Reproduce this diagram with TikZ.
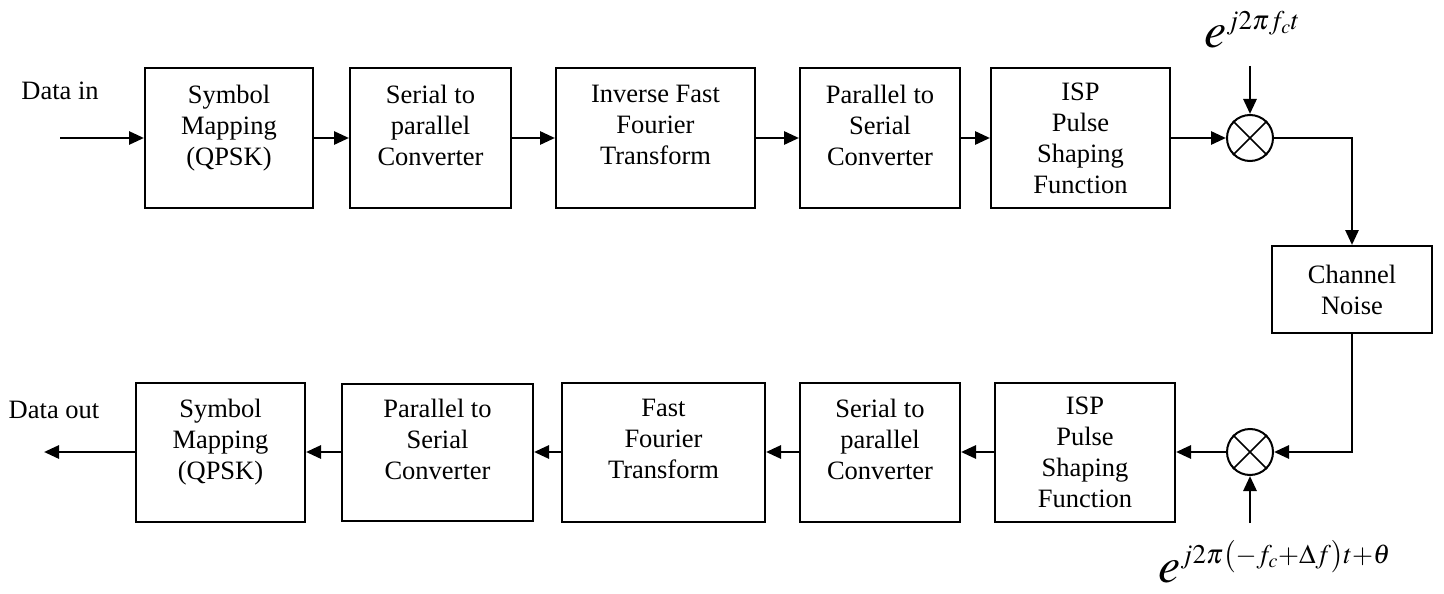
\documentclass[tikz,border=0pt]{standalone}
\usepackage{amsmath}
\usepackage{mathptmx}
\usepackage{fontspec}
\setmainfont{Liberation Serif}
\usepackage{tikz}
\usetikzlibrary{arrows.meta,positioning}

\newcommand{\lowpad}{\rule[-26pt]{0pt}{26pt}}

\begin{document}
\begin{tikzpicture}[x=1pt,y=-1pt,
  blk/.style={draw,line width=2pt,inner sep=0pt,align=center,font=\fontsize{26.5}{31}\selectfont},
  mix/.style={draw,circle,line width=2pt,minimum size=46pt,inner sep=0pt},
  arr/.style={line width=2.8pt,-{Triangle[length=15pt,width=13pt]}},
  lbl/.style={font=\fontsize{26.5}{31}\selectfont}]
%
\useasboundingbox (0,0) rectangle (1444,594);
%
% transmitter
\node[blk,minimum width=168pt,minimum height=139pt] (symA) at (229,138) {Symbol\\Mapping\\(QPSK)\lowpad};
\node[blk,minimum width=161pt,minimum height=139pt] (spA) at (430.5,138) {Serial to\\parallel\\Converter\lowpad};
\node[blk,minimum width=199pt,minimum height=139pt] (iffA) at (655.5,138) {Inverse Fast\\Fourier\\Transform\lowpad};
\node[blk,minimum width=160pt,minimum height=139pt] (psA) at (880,138) {Parallel to\\Serial\\Converter\lowpad};
\node[blk,minimum width=179pt,minimum height=139pt] (isA) at (1080.5,138) {ISP\\Pulse\\Shaping\\Function};
\node[mix] (mixA) at (1250,138) {};
\draw[line width=1.6pt] (mixA.45) -- (mixA.225) (mixA.135) -- (mixA.315);
%
\node[blk,minimum width=160pt,minimum height=87pt] (chn) at (1352,289.5) {Channel\\Noise};
%
% receiver
\node[mix] (mixB) at (1250,452) {};
\draw[line width=1.6pt] (mixB.45) -- (mixB.225) (mixB.135) -- (mixB.315);
\node[blk,minimum width=180pt,minimum height=139pt] (isB) at (1085,452) {ISP\\Pulse\\Shaping\\Function};
\node[blk,minimum width=160pt,minimum height=139pt] (spB) at (880,452) {Serial to\\parallel\\Converter\lowpad};
\node[blk,minimum width=203pt,minimum height=139pt] (fftB) at (663.5,452) {Fast\\Fourier\\Transform\lowpad};
\node[blk,minimum width=191pt,minimum height=137pt] (psB) at (437.5,452) {Parallel to\\Serial\\Converter\lowpad};
\node[blk,minimum width=169pt,minimum height=139pt] (symB) at (220.5,452) {Symbol\\Mapping\\(QPSK)\lowpad};
%
% labels
\node[lbl] (dinlbl) at (60,91) {Data in};
\node[lbl] (doutlbl) at (54,410) {Data out};
\node[anchor=base west,inner sep=0pt] (carA) at (1204,48)
  {\fontsize{50}{50}\selectfont$e^{\mbox{\fontsize{27}{27}\selectfont$j2\pi f_c t$}}$};
\node[anchor=base west,inner sep=0pt] (carB) at (1158,582)
  {\fontsize{50}{50}\selectfont$e^{\mbox{\fontsize{27}{27}\selectfont$j2\pi\bigl({-}f_c{+}\Delta f\bigr)t{+}\theta$}}$};
%
\coordinate (din) at (60,138);
\coordinate (dout) at (44,452);
\coordinate (loA) at (1250,66);
\coordinate (loB) at (1250,523);
%
\draw[arr] (din) -- (symA);
\draw[arr] (symA) -- (spA);
\draw[arr] (spA) -- (iffA);
\draw[arr] (iffA) -- (psA);
\draw[arr] (psA) -- (isA);
\draw[arr] (isA) -- (mixA);
\draw[arr] (loA) -- (mixA);
\draw[arr] (mixA) -| (chn);
\draw[arr] (chn) |- (mixB);
\draw[arr] (loB) -- (mixB);
\draw[arr] (mixB) -- (isB);
\draw[arr] (isB) -- (spB);
\draw[arr] (spB) -- (fftB);
\draw[arr] (fftB) -- (psB);
\draw[arr] (psB) -- (symB);
\draw[arr] (symB) -- (dout);
%
\end{tikzpicture}
\end{document}
